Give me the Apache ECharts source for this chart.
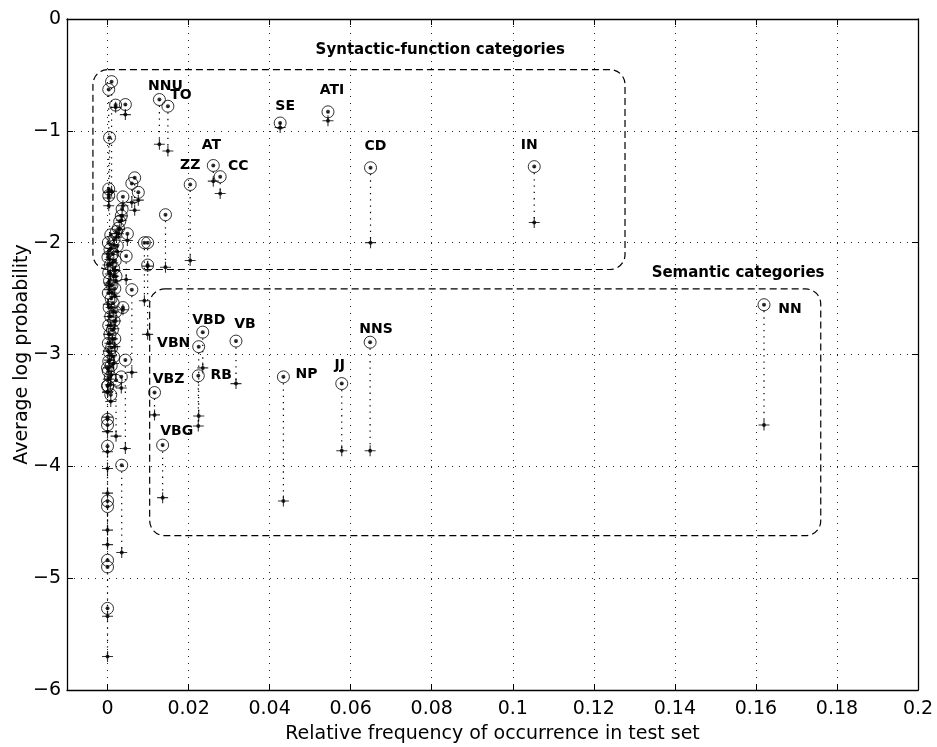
<!DOCTYPE html>
<html><head><meta charset="utf-8">
<script src="https://cdn.jsdelivr.net/npm/echarts@6/dist/echarts.min.js"></script>
<style>html,body{margin:0;padding:0;background:#fff}#c{width:937px;height:747px}</style>
</head><body><div id="c"></div>
<script>
// ---------- data ----------
const xTicks = [0, 0.02, 0.04, 0.06, 0.08, 0.1, 0.12, 0.14, 0.16, 0.18, 0.2];
const yTicks = [-6, -5, -4, -3, -2, -1, 0];

// category tags ('' = unlabeled)
const categories = [
  'NNU','TO','SE','ATI','AT','CC','ZZ','CD','IN','NN',
  'VBD','VBN','RB','VB','VBZ','VBG','NP','JJ','NNS',
  '','','','','','','','','','','','','','','','','','','','','','','','','','','','',
  '','','','','','','','','','',
  '','','','','','','','','','','','','','','','','','','','','','','','','','','','','','','','','','','',''
];
// relative frequency in test set
const freq = [
  0.0128,0.0149,0.0426,0.0544,0.0261,0.0278,0.0204,0.0649,0.1053,0.1620,
  0.0235,0.0225,0.0224,0.0317,0.0116,0.0136,0.0434,0.0578,0.0648,
  0.0010,0.0003,0.0020,0.0044,0.0005,0.0067,0.0060,0.0076,0.0003,0.0003,0.0038,0.0036,0.0034,0.0030,0.0027,0.0143,0.0091,0.0099,0.0099,0.0049,0.0046,0.0060,0.0038,0.0044,0.0021,0.0034,0.0035,0.0008,
  0.0000,0.0000,0.0000,0.0000,0.0000,0.0000,0.0000,0.0000,0.0000,0.0000,
  0.0022,0.0008,0.0016,0.0002,0.0024,0.0006,0.0013,0.0001,0.0019,0.0007,0.0015,0.0003,0.0021,0.0005,0.0011,0.0018,0.0002,0.0009,0.0014,0.0004,0.0020,0.0008,0.0016,0.0003,0.0012,0.0006,0.0018,0.0002,0.0010,0.0005,0.0015,0.0003,0.0009,0.0002,0.0007,0.0001,0.0004
];
// average log probability, model shown with circles
const circleLogProb = [
  -0.72,-0.78,-0.93,-0.83,-1.31,-1.41,-1.48,-1.33,-1.32,-2.555,
  -2.80,-2.93,-3.19,-2.88,-3.34,-3.81,-3.20,-3.26,-2.89,
  -0.56,-0.63,-0.77,-0.765,-1.06,-1.42,-1.47,-1.55,-1.52,-1.58,-1.59,-1.70,-1.76,-1.81,-1.87,-1.75,-2.00,-2.00,-2.20,-1.92,-2.12,-2.42,-2.58,-3.05,-3.23,-3.20,-3.99,-3.36,
  -3.58,-3.63,-3.82,-4.31,-4.36,-4.84,-4.90,-5.27,-3.12,-3.28,
  -1.90,-1.93,-1.97,-2.00,-2.03,-2.06,-2.10,-2.13,-2.16,-2.20,-2.23,-2.27,-2.30,-2.34,-2.38,-2.41,-2.45,-2.50,-2.54,-2.58,-2.62,-2.66,-2.70,-2.74,-2.78,-2.82,-2.86,-2.90,-2.94,-2.98,-3.02,-3.06,-3.10,-3.15,-3.20,-3.28,-3.31
];
// average log probability, model shown with plus marks
const plusLogProb = [
  -1.12,-1.18,-0.97,-0.91,-1.45,-1.56,-2.16,-2.00,-1.82,-3.63,
  -3.12,-3.55,-3.64,-3.26,-3.54,-4.28,-4.31,-3.86,-3.86,
  -1.54,-1.67,-0.79,-0.855,-2.38,-1.71,-1.64,-1.62,-1.55,-1.60,-1.67,-1.76,-1.80,-1.88,-1.92,-2.22,-2.52,-2.82,-2.21,-1.98,-2.33,-3.16,-2.60,-3.84,-3.73,-3.30,-4.77,-3.42,
  -3.56,-3.69,-3.87,-4.57,-4.70,-4.02,-5.34,-5.70,-4.24,-3.34,
  -1.95,-2.05,-2.02,-2.10,-2.08,-2.15,-2.18,-2.20,-2.25,-2.28,-2.30,-2.36,-2.34,-2.42,-2.45,-2.48,-2.55,-2.58,-2.62,-2.66,-2.70,-2.74,-2.77,-2.82,-2.86,-2.90,-2.93,-2.97,-3.01,-3.05,-3.08,-3.12,-3.18,-3.22,-3.27,-3.33,-3.40
];

// grouping boxes (data coords)
const boxNames = ['Syntactic-function categories', 'Semantic categories'];
const boxXFrom = [-0.0036, 0.0104];
const boxXTo   = [0.1277, 0.1760];
const boxYTop  = [-0.452, -2.414];
const boxYBot  = [-2.240, -4.620];
const boxTitleX = [0.0821, 0.1556];
const boxTitleY = [-0.282, -2.268];

// ---------- styles ----------
const labelOffset = {
  NNU:[6,-13], TO:[13,-11], SE:[5,-17], ATI:[4,-21], AT:[-2,-20], CC:[18,-10],
  ZZ:[0,-19], CD:[5,-21], IN:[-5,-21], NN:[26,5], VBD:[6,-12], VBN:[-25,-3],
  VB:[9,-17], VBZ:[14,-13], VBG:[14,-14], RB:[23,0], NP:[23,-3], JJ:[-2,-18], NNS:[6,-13]
};
const FONT = 'DejaVu Sans';
const BOLD = 'DejaVu Sans';

const circleData = categories.map((c, i) => [freq[i], circleLogProb[i]]);
const plusData = categories.map((c, i) => [freq[i], plusLogProb[i]]);
const dotData = circleData.concat(plusData);
const stemData = categories.map((c, i) => [freq[i], circleLogProb[i], plusLogProb[i]]);
const tagData = categories.map((c, i) => [freq[i], circleLogProb[i], i]).filter(d => categories[d[2]]);
const boxData = boxNames.map((n, i) => [boxXFrom[i], boxXTo[i], boxYBot[i], boxYTop[i]]);
const boxTitleData = boxNames.map((n, i) => [boxTitleX[i], boxTitleY[i], i]);

const chart = echarts.init(document.getElementById('c'), null, { renderer: 'canvas' });
const gridDot = { show: true, lineStyle: { color: '#222', width: 1, type: [1, 6] } };
const axLine = { show: true, onZero: false, lineStyle: { color: '#000', width: 1.3 } };
const option = {
  animation: false,
  backgroundColor: '#fff',
  grid: { left: 67, right: 19, top: 19, bottom: 57, containLabel: false, outerBoundsMode: 'none' },
  xAxis: [{
    type: 'value', min: -0.01, max: 0.2, position: 'bottom',
    axisLine: axLine,
    axisTick: { show: true, inside: true, length: 6, customValues: xTicks, lineStyle: { color: '#000' } },
    axisLabel: { show: true, customValues: xTicks, margin: 10, fontFamily: FONT, fontSize: 19, color: '#000',
                 formatter: v => String(+v.toFixed(2)) },
    splitLine: gridDot,
    name: 'Relative frequency of occurrence in test set', nameLocation: 'middle', nameGap: 35,
    nameTextStyle: { fontFamily: FONT, fontSize: 19, color: '#000' }
  }, {
    type: 'value', min: -0.01, max: 0.2, position: 'top',
    axisLine: axLine,
    axisTick: { show: true, inside: true, length: 6, customValues: xTicks, lineStyle: { color: '#000' } },
    axisLabel: { show: false }, splitLine: { show: false }
  }],
  yAxis: [{
    type: 'value', min: -6, max: 0, interval: 1, position: 'left',
    axisLine: axLine,
    axisTick: { show: true, inside: true, length: 6, lineStyle: { color: '#000' } },
    axisLabel: { margin: 6, fontFamily: FONT, fontSize: 19, color: '#000',
                 formatter: v => v < 0 ? '\u2212' + Math.abs(v) : String(v) },
    splitLine: gridDot,
    name: 'Average log probability', nameLocation: 'middle', nameGap: 35, nameRotate: 90,
    nameMoveOverlap: false,
    nameTextStyle: { fontFamily: FONT, fontSize: 19, color: '#000' }
  }, {
    type: 'value', min: -6, max: 0, interval: 1, position: 'right',
    axisLine: axLine,
    axisTick: { show: true, inside: true, length: 6, lineStyle: { color: '#000' } },
    axisLabel: { show: false }, splitLine: { show: false }
  }],
  series: [
    { // grouping boxes
      type: 'custom', coordinateSystem: 'cartesian2d', silent: true, z: 1,
      data: boxData,
      renderItem: (params, api) => {
        const p0 = api.coord([api.value(0), api.value(3)]);
        const p1 = api.coord([api.value(1), api.value(2)]);
        return { type: 'rect', shape: { x: p0[0], y: p0[1], width: p1[0] - p0[0], height: p1[1] - p0[1], r: 15 },
                 style: { fill: null, stroke: '#000', lineWidth: 1.2, lineDash: [7, 4] } };
      }
    },
    { // box titles
      type: 'custom', coordinateSystem: 'cartesian2d', silent: true, z: 5,
      data: boxTitleData,
      renderItem: (params, api) => {
        const p = api.coord([api.value(0), api.value(1)]);
        return { type: 'text', x: p[0], y: p[1],
                 style: { text: boxNames[api.value(2)], fill: '#000', align: 'center', verticalAlign: 'middle',
                          font: 'bold 15px "' + BOLD + '"' } };
      }
    },
    { // category tags
      type: 'custom', coordinateSystem: 'cartesian2d', silent: true, z: 5,
      data: tagData,
      renderItem: (params, api) => {
        const p = api.coord([api.value(0), api.value(1)]);
        const name = categories[api.value(2)];
        const off = labelOffset[name] || [0, -16];
        return { type: 'text', x: p[0] + off[0], y: p[1] + off[1],
                 style: { text: name, fill: '#000', align: 'center', verticalAlign: 'middle',
                          font: 'bold 14px "' + BOLD + '"' } };
      }
    },
    { // dotted stems between the two models
      type: 'custom', coordinateSystem: 'cartesian2d', silent: true, z: 2,
      data: stemData,
      renderItem: (params, api) => {
        const a = api.coord([api.value(0), api.value(1)]);
        const b = api.coord([api.value(0), api.value(2)]);
        return { type: 'line', shape: { x1: a[0], y1: a[1], x2: b[0], y2: b[1] },
                 style: { stroke: '#000', lineWidth: 1.2, lineDash: [1.3, 5] } };
      }
    },
    {
      type: 'scatter', name: 'circle', z: 4, symbol: 'circle', symbolSize: 12,
      itemStyle: { color: 'rgba(0,0,0,0)', borderColor: '#000', borderWidth: 1 },
      data: circleData, emphasis: { disabled: true }
    },
    {
      type: 'scatter', name: 'plus', z: 4, symbol: 'path://M0,4.5H10V5.5H0Z M4.5,0H5.5V10H4.5Z', symbolSize: 11,
      itemStyle: { color: '#000' }, data: plusData, emphasis: { disabled: true }
    },
    {
      type: 'scatter', name: 'dot', z: 4, symbol: 'circle', symbolSize: 4,
      itemStyle: { color: '#000' }, data: dotData, emphasis: { disabled: true }
    }
  ]
};
chart.setOption(option);
</script>
</body></html>
